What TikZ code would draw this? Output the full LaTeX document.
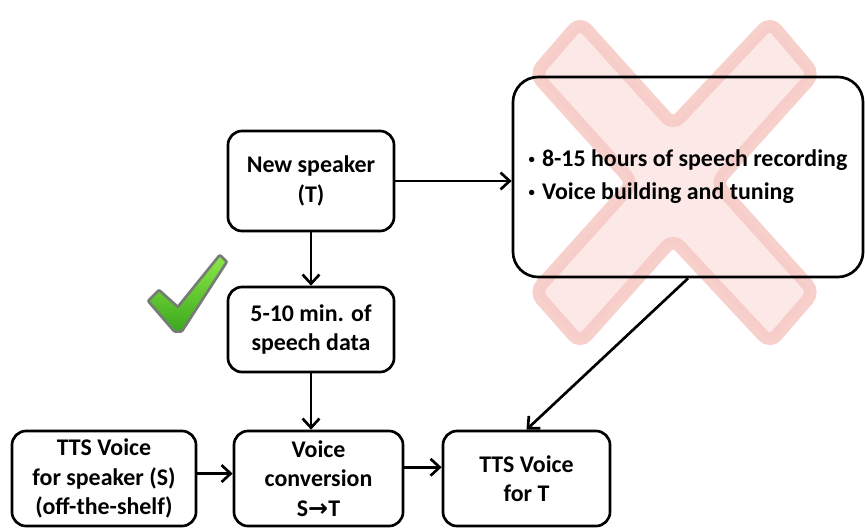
\documentclass[tikz,border=0pt]{standalone}
\usepackage{fontspec}
\setmainfont{Carlito}
\newfontfamily\symfont{DejaVu Sans}
\usetikzlibrary{arrows.meta}
\definecolor{xfill}{RGB}{253,230,230}
\definecolor{xedge}{RGB}{246,203,198}
\definecolor{ticklight}{RGB}{140,230,70}
\definecolor{tickgreen}{RGB}{60,170,30}
\definecolor{tickshadow}{RGB}{70,80,70}

\begin{document}
\begin{tikzpicture}[
    x=0.025cm, y=-0.025cm,
    box/.style={draw, line width=1.9pt, rounded corners=10pt, align=center, inner sep=0pt,
        font=\fontsize{17}{21}\selectfont\bfseries},
    bigbox/.style={box, rounded corners=18pt, align=left, font=\fontsize{17}{23.5}\selectfont\bfseries},
    arr/.style={-{Straight Barb[length=6.5pt,width=12pt]}, line width=1.9pt},
]
    \useasboundingbox (0,0) rectangle (865,527);
    \draw[xedge, line width=9pt, fill=xfill, rounded corners=7pt, opacity=0.9]
        (580,22) -- (673,125) -- (770,22) -- (814,74) -- (716,183) -- (814,292)
        -- (770,343) -- (673,239) -- (580,343) -- (535,292) -- (633,183) -- (535,74) -- cycle;
    \draw[tickshadow, line width=4pt, line join=round, opacity=0.75]
        (150,301) -- (159,292) -- (178,309) -- (220,257) -- (225,262) -- (181,330) -- (175,330) -- cycle;
    \shade[top color=ticklight, bottom color=tickgreen, line join=round]
        (150,301) -- (159,292) -- (178,309) -- (220,257) -- (225,262) -- (181,330) -- (175,330) -- cycle;
    \node[box, minimum width=4.15cm, minimum height=2.5cm] (spk) at (311,181) {New speaker\\(T)};
    \node[box, minimum width=4.15cm, minimum height=2.125cm] (data) at (311,329.5) {5-10 min. of\\speech data};
    \node[box, minimum width=4.6cm, minimum height=2.375cm] (src) at (104,478.5) {TTS Voice\\for speaker (S)\\(off-the-shelf)};
    \node[box, minimum width=4.225cm, minimum height=2.375cm] (conv) at (318.5,478.5) {Voice\\conversion\\S{\symfont\bfseries→}T};
    \node[box, minimum width=4.175cm, minimum height=2.375cm] (tgt) at (526.5,478.5) {TTS Voice\\for T};
    \node[bigbox, minimum width=8.75cm, minimum height=5cm] (rec) at (688,177)
        {\raisebox{0.3ex}{\small•}\hspace{5pt}8-15 hours of speech recording\\\raisebox{0.3ex}{\small•}\hspace{5pt}Voice building and tuning};
    \draw[arr] (spk.east) -- (spk.east -| rec.west);
    \draw[arr] (spk.south) -- (data.north);
    \draw[arr] (data.south) -- (data.south |- conv.north);
    \draw[arr] ([yshift=3.5pt]src.east) -- ([yshift=3.5pt]src.east -| conv.west);
    \draw[arr] ([yshift=8pt]conv.east) -- ([yshift=8pt]conv.east -| tgt.west);
    \draw[arr] (rec.south) -- (tgt.north);
\end{tikzpicture}
\end{document}
